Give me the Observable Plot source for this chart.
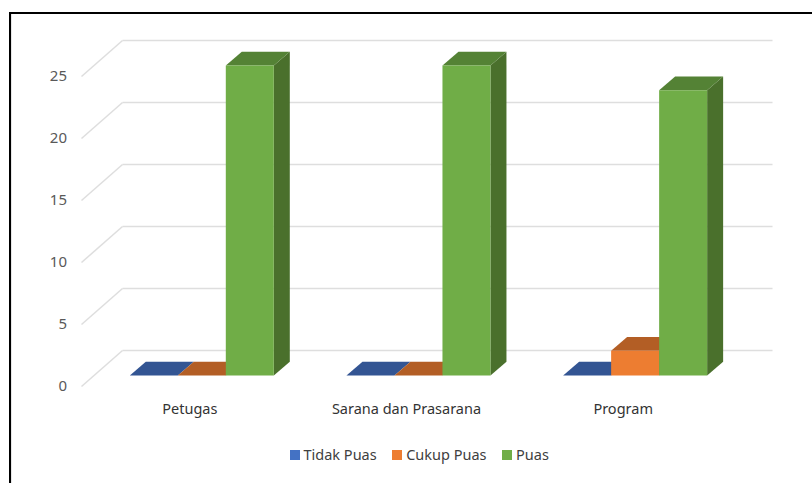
<!DOCTYPE html>
<html>
<head>
<meta charset="utf-8">
<script src="https://cdn.jsdelivr.net/npm/d3@7"></script>
<script src="https://cdn.jsdelivr.net/npm/@observablehq/plot@0.6"></script>
<style>
html,body{margin:0;padding:0;background:#fff;overflow:hidden;}
#wrap{position:relative;width:812px;height:483px;font-family:"Noto Sans",sans-serif;}
#frame{position:absolute;left:9px;top:12px;right:0;bottom:0;border-left:2.5px solid #000;border-top:2.5px solid #000;box-shadow:inset 1px 0 0 #e6e6e6;}
#chart{position:absolute;left:0;top:0;}
#chart svg{display:block;background:transparent;}
#legend{position:absolute;left:289.5px;top:444px;display:flex;align-items:center;font-size:14.5px;color:#404040;line-height:21px;}
#legend i{display:inline-block;width:10px;height:10px;margin-right:4px;}
#legend span{margin-right:15.5px;display:flex;align-items:center;}
</style>
</head>
<body>
<div id="wrap">
<div id="frame"></div>
<div id="chart"></div>
<div id="legend"></div>
</div>
<script>
const categories = ["Petugas", "Sarana dan Prasarana", "Program"];
const seriesNames = ["Tidak Puas", "Cukup Puas", "Puas"];
const tidakPuas = [0, 0, 0];
const cukupPuas = [0, 0, 2];
const puas = [25, 25, 23];
const yTicks = [0, 5, 10, 15, 20, 25];
const seriesValues = [tidakPuas, cukupPuas, puas];
const frontColors = ["#4472c4", "#ed7d31", "#70ad47"];
const topColors = ["#335593", "#b35e25", "#548235"];
const sideColors = ["#2a4a80", "#9c5020", "#4a702c"];

// oblique projection, in data units
const wallX = 41 / 216.67, wallY = 36 / 12.4;
const barW = 48 / 216.67, barLeft = 48.3 / 216.67, barBase = 11 / 12.4;
const barDX = 16 / 216.67, barDY = 13.8 / 12.4;

const faces = [];
let id = 0;
function face(fill, pts) {
  id++;
  pts.forEach(([x, y]) => faces.push({x, y, fill, id}));
}
categories.forEach((c, i) => {
  seriesValues.forEach((vals, s) => {
    const v = vals[i];
    const x0 = i + barLeft + s * barW, x1 = x0 + barW;
    const y0 = barBase, y1 = barBase + v;
    face(sideColors[s], [[x1, y0], [x1 + barDX, y0 + barDY], [x1 + barDX, y1 + barDY], [x1, y1]]);
    face(topColors[s], [[x0, y1], [x0 + barDX, y1 + barDY], [x1 + barDX, y1 + barDY], [x1, y1]]);
    face(frontColors[s], [[x0, y0], [x1, y0], [x1, y1], [x0, y1]]);
  });
});

const chart = Plot.plot({
  width: 812,
  height: 430,
  marginLeft: 81,
  marginRight: 40,
  marginTop: 40,
  marginBottom: 44,
  x: {type: "linear", domain: [0, 3 + wallX]},
  y: {type: "linear", domain: [0, 25 + wallY]},
  color: {type: "identity"},
  style: {fontFamily: "'Noto Sans',sans-serif", background: "transparent"},
  marks: [
    Plot.link(yTicks, {x1: 0, y1: d => d, x2: wallX, y2: d => d + wallY, stroke: "#dedede", strokeWidth: 1.5}),
    Plot.link(yTicks, {x1: wallX, y1: d => d + wallY, x2: 3 + wallX, y2: d => d + wallY, stroke: "#dedede", strokeWidth: 1.5}),
    Plot.line(faces, {x: "x", y: "y", z: "id", fill: "fill", stroke: "none"}),
    Plot.axisY({ticks: yTicks, tickSize: 0, tickPadding: 14.5, label: null, fontSize: 15, color: "#595959", anchor: "left"}),
    Plot.axisX({ticks: [0.5, 1.5, 2.5], tickFormat: t => categories[Math.floor(t)], tickSize: 0, tickPadding: 17, label: null, fontSize: 14.5, color: "#333333", anchor: "bottom"})
  ]
});
document.getElementById("chart").append(chart);

const legend = document.getElementById("legend");
seriesNames.forEach((n, s) => {
  const e = document.createElement("span");
  const sw = document.createElement("i");
  sw.style.background = frontColors[s];
  e.append(sw, document.createTextNode(n));
  legend.append(e);
});
</script>
</body>
</html>
